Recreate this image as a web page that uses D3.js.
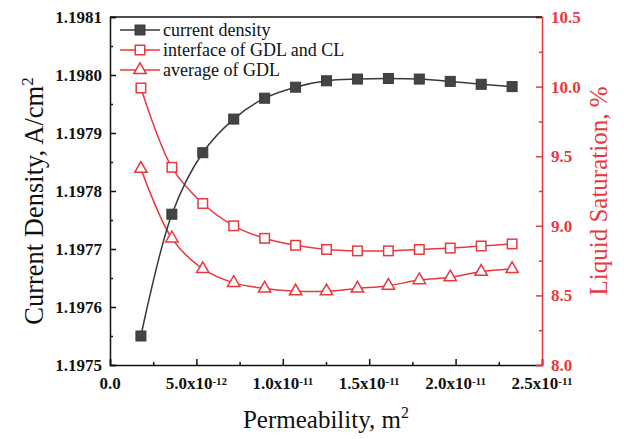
<!DOCTYPE html>
<html>
<head>
<meta charset="utf-8">
<script src="https://cdn.jsdelivr.net/npm/d3@7"></script>
<style>
  body { margin: 0; background: #fff; }
  svg { display: block; font-family: "Liberation Serif", "Times New Roman", serif; }
  .bold { font-family: "Liberation Serif", serif; font-weight: bold; }
</style>
</head>
<body>
<svg id="chart" width="624" height="439"></svg>
<script>
// DATA
const permeability = [1.79e-12, 3.58e-12, 5.37e-12, 7.16e-12, 8.95e-12, 1.074e-11, 1.253e-11,
  1.432e-11, 1.611e-11, 1.79e-11, 1.969e-11, 2.148e-11, 2.327e-11];
const currentDensity = [1.19755, 1.19776, 1.197866, 1.197924, 1.19796, 1.197979, 1.19799,
  1.197993, 1.197994, 1.197993, 1.197989, 1.197984, 1.19798];
const satInterface = [9.99, 9.42, 9.16, 9.0, 8.91, 8.86, 8.83, 8.82, 8.82, 8.83, 8.84, 8.855, 8.87];
const satAverage = [9.41, 8.91, 8.69, 8.59, 8.55, 8.53, 8.53, 8.55, 8.57, 8.61, 8.63, 8.67, 8.69];

const xTicks = [0, 5e-12, 1e-11, 1.5e-11, 2e-11, 2.5e-11];
const yLeftTicks = [1.1975, 1.1976, 1.1977, 1.1978, 1.1979, 1.198, 1.1981];
const yRightTicks = [8.0, 8.5, 9.0, 9.5, 10.0, 10.5];
const legendLabels = ["current density", "interface of GDL and CL", "average of GDL"];

// CANVAS SETUP
const canvas = d3.select("#chart");
const margin = { top: 17, right: 82, bottom: 74, left: 110 },
  width = +canvas.attr("width") - margin.left - margin.right,
  height = +canvas.attr("height") - margin.top - margin.bottom;

const black = "#3a3a3a",
  red = "#e8383d";

const g = canvas.append("g").attr("transform", `translate(${margin.left},${margin.top})`);

const x = d3.scaleLinear().domain([0, 2.5e-11]).range([0, width]);
const yL = d3.scaleLinear().domain([1.1975, 1.1981]).range([height, 0]);
const yR = d3.scaleLinear().domain([8.0, 10.5]).range([height, 0]);

// minor ticks halfway between majors
const mids = (arr) => arr.slice(1).map((d, i) => (d + arr[i]) / 2);

// AXES
const gx = g.append("g").attr("transform", `translate(0,${height})`);
gx.call(d3.axisBottom(x).tickValues(xTicks).tickSize(-6).tickFormat(""));
gx.append("g").call(d3.axisBottom(x).tickValues(mids(xTicks)).tickSize(-3).tickFormat(""))
  .select(".domain").remove();

const gy = g.append("g");
gy.call(d3.axisLeft(yL).tickValues(yLeftTicks).tickSize(-6).tickFormat(d3.format(".4f")));
gy.append("g").call(d3.axisLeft(yL).tickValues(mids(yLeftTicks)).tickSize(-3).tickFormat(""))
  .select(".domain").remove();

const gr = g.append("g").attr("transform", `translate(${width},0)`);
gr.call(d3.axisRight(yR).tickValues(yRightTicks).tickSize(-6).tickFormat(d3.format(".1f")));
gr.append("g").call(d3.axisRight(yR).tickValues(mids(yRightTicks)).tickSize(-3).tickFormat(""))
  .select(".domain").remove();

// let the axis text inherit the serif font
g.selectAll("g").attr("font-family", null).attr("font-size", null);

[gx, gy].forEach((a) => {
  a.selectAll(".domain, line").attr("stroke", "#111").attr("stroke-width", 1.5);
});
gr.selectAll(".domain, line").attr("stroke", red).attr("stroke-width", 1.5);

gy.selectAll(".tick text")
  .attr("class", "bold")
  .attr("x", -8)
  .attr("font-size", 17).attr("fill", "#111");
gr.selectAll(".tick text")
  .attr("class", "bold")
  .attr("x", 9)
  .attr("font-size", 17).attr("fill", red);

// top border
g.append("line")
  .attr("x1", 0).attr("x2", width).attr("y1", 0).attr("y2", 0)
  .attr("stroke", "#111").attr("stroke-width", 1.5);

// x tick labels with superscript exponent
const xl = gx.selectAll("text.xl")
  .data(xTicks)
  .join("text")
  .attr("class", "xl bold")
  .attr("x", (d) => x(d))
  .attr("y", 24)
  .attr("text-anchor", "middle")
  .attr("font-size", 17).attr("fill", "#111");
xl.each(function (d) {
  const t = d3.select(this);
  if (d === 0) {
    t.text("0.0");
    return;
  }
  const e = Math.floor(Math.log10(d) + 1e-9);
  const m = d / Math.pow(10, e);
  t.append("tspan").text(m.toFixed(1) + "x10");
  t.append("tspan").attr("dy", -4.5).attr("font-size", 11).text(String(e));
});

// AXIS TITLES
canvas.append("text")
  .attr("x", margin.left + width / 2)
  .attr("y", 428)
  .attr("text-anchor", "middle")
  .attr("font-size", 25).attr("fill", "#111")
  .call((t) => {
    t.append("tspan").text("Permeability, m");
    t.append("tspan").attr("dy", -10).attr("font-size", 16).text("2");
  });

canvas.append("text")
  .attr("transform", `translate(43,${margin.top + height / 2 + 10}) rotate(-90)`)
  .attr("text-anchor", "middle")
  .attr("font-size", 26.5).attr("fill", "#111")
  .call((t) => {
    t.append("tspan").text("Current Density, A/cm");
    t.append("tspan").attr("dy", -10).attr("font-size", 17).text("2");
  });

canvas.append("text")
  .attr("transform", `translate(607,${margin.top + height / 2}) rotate(-90)`)
  .attr("text-anchor", "middle")
  .attr("font-size", 25).attr("fill", red)
  .text("Liquid Saturation, %");

// SERIES
const cd = permeability.map((p, i) => ({ p, v: currentDensity[i] }));
const si = permeability.map((p, i) => ({ p, v: satInterface[i] }));
const sa = permeability.map((p, i) => ({ p, v: satAverage[i] }));

const lineL = d3.line().x((d) => x(d.p)).y((d) => yL(d.v)).curve(d3.curveCatmullRom.alpha(0.5));
const lineR = d3.line().x((d) => x(d.p)).y((d) => yR(d.v)).curve(d3.curveCatmullRom.alpha(0.5));

g.append("path").datum(si).attr("d", lineR)
  .attr("fill", "none").attr("stroke", red).attr("stroke-width", 1.5);
g.append("path").datum(sa).attr("d", lineR)
  .attr("fill", "none").attr("stroke", red).attr("stroke-width", 1.5);
g.append("path").datum(cd).attr("d", lineL)
  .attr("fill", "none").attr("stroke", black).attr("stroke-width", 1.5);

const tri = d3.symbol().type(d3.symbolTriangle).size(66);
const sq = 9.5;

g.selectAll("rect.si").data(si).join("rect")
  .attr("class", "si")
  .attr("x", (d) => x(d.p) - sq / 2).attr("y", (d) => yR(d.v) - sq / 2)
  .attr("width", sq).attr("height", sq)
  .attr("fill", "#fff").attr("stroke", red).attr("stroke-width", 1.5);

g.selectAll("path.sa").data(sa).join("path")
  .attr("class", "sa")
  .attr("d", tri)
  .attr("transform", (d) => `translate(${x(d.p)},${yR(d.v)})`)
  .attr("fill", "#fff").attr("stroke", red).attr("stroke-width", 1.5);

g.selectAll("rect.cd").data(cd).join("rect")
  .attr("class", "cd")
  .attr("x", (d) => x(d.p) - 5).attr("y", (d) => yL(d.v) - 5)
  .attr("width", 10).attr("height", 10)
  .attr("fill", "#444").attr("stroke", black).attr("stroke-width", 1);

// LEGEND
const lg = canvas.append("g").attr("transform", "translate(120,30)");
const rows = lg.selectAll("g").data(legendLabels).join("g")
  .attr("transform", (d, i) => `translate(0,${i * 20})`);
rows.append("line")
  .attr("x1", 0).attr("x2", 40)
  .attr("stroke", (d, i) => (i === 0 ? black : red)).attr("stroke-width", 1.5);
rows.each(function (d, i) {
  const r = d3.select(this);
  if (i === 0) {
    r.append("rect").attr("x", 15).attr("y", -5).attr("width", 10).attr("height", 10)
      .attr("fill", "#444").attr("stroke", black);
  } else if (i === 1) {
    r.append("rect").attr("x", 20 - sq / 2).attr("y", -sq / 2).attr("width", sq).attr("height", sq)
      .attr("fill", "#fff").attr("stroke", red).attr("stroke-width", 1.5);
  } else {
    r.append("path").attr("d", tri).attr("transform", "translate(20,0)")
      .attr("fill", "#fff").attr("stroke", red).attr("stroke-width", 1.5);
  }
});
rows.append("text")
  .attr("x", 43).attr("dy", "0.32em")
  .attr("font-size", 18).attr("fill", "#111")
  .text((d) => d);
</script>
</body>
</html>
